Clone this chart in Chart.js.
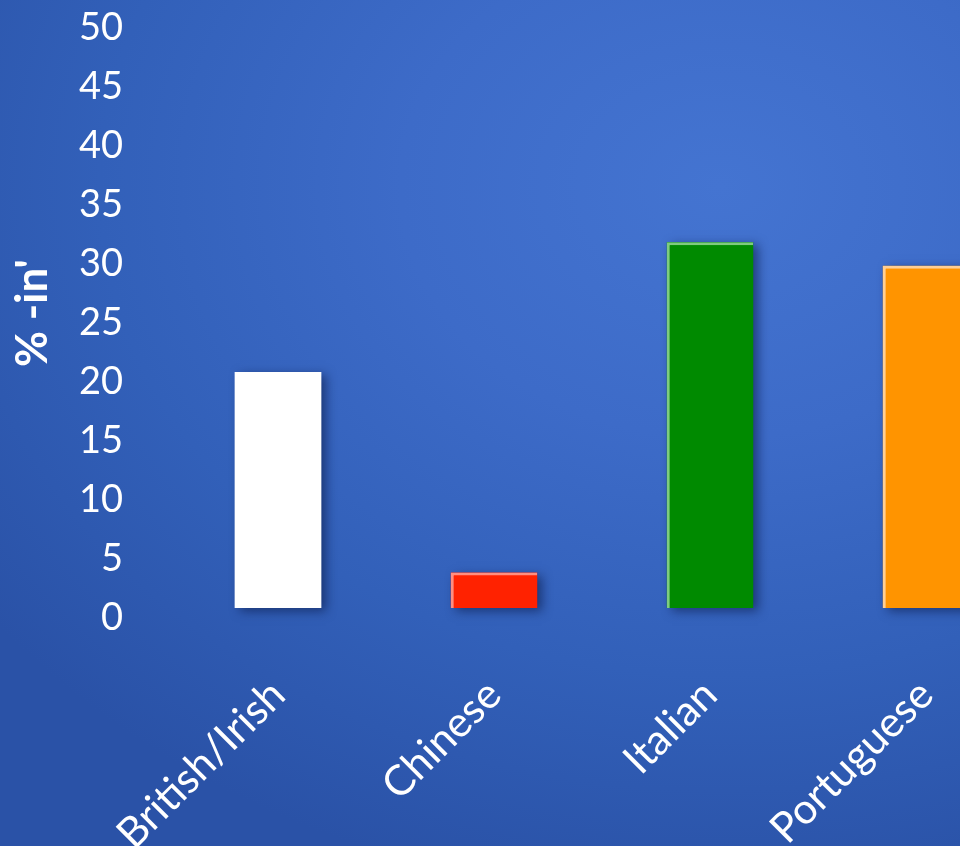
<!DOCTYPE html>
<html>
<head>
<meta charset="utf-8">
<style>
    html, body {
        margin: 0;
        padding: 0;
        width: 960px;
        height: 846px;
        overflow: hidden;
    }
    body {
        background: radial-gradient(ellipse 95% 85% at 75% 22%, #4474d1 0%, #3d6bc8 35%, #3260b9 68%, #2a52a7 100%);
    }
    #wrap {
        width: 1060px;
        height: 846px;
    }
</style>
</head>
<body>
<div id="wrap">
    <canvas id="ethnicChart" width="1060" height="846"></canvas>
</div>

<script src="https://cdn.jsdelivr.net/npm/chart.js"></script>
<script>
    // Chart data
    const categories = ['British/Irish', 'Chinese', 'Italian', 'Portuguese'];
    const values = [20, 3, 31, 29];
    const barColors = ['#ffffff', '#ff2200', '#008a00', '#ff9400'];
    const edgeColors = ['#ffffff', '#ff8f80', '#7fcb7f', '#ffcf94'];
    const yMin = 0;
    const yMax = 50;
    const yStep = 5;
    const yTitle = "% -in'";

    // soft drop shadow behind each bar, drawn from the bar elements
    const barShadow = {
        id: 'barShadow',
        beforeDatasetsDraw(chart) {
            const ctx = chart.ctx;
            const meta = chart.getDatasetMeta(0);
            ctx.save();
            ctx.shadowColor = 'rgba(10, 25, 70, 0.6)';
            ctx.shadowBlur = 10;
            ctx.shadowOffsetX = 5;
            ctx.shadowOffsetY = 3;
            meta.data.forEach((bar, i) => {
                const p = bar.getProps(['x', 'y', 'base', 'width'], true);
                ctx.fillStyle = barColors[i];
                ctx.fillRect(p.x - p.width / 2, p.y, p.width, p.base - p.y);
            });
            ctx.restore();
        }
    };

    const ctx = document.getElementById('ethnicChart').getContext('2d');

    new Chart(ctx, {
        type: 'bar',
        data: {
            labels: categories,
            datasets: [{
                data: values,
                backgroundColor: barColors,
                borderColor: edgeColors,
                borderWidth: (c) => c.dataIndex === 0 ? 0 : { top: 3, left: 3, right: 0, bottom: 0 },
                borderSkipped: false,
                barPercentage: 0.5,
                categoryPercentage: 0.8
            }]
        },
        options: {
            responsive: false,
            animation: false,
            layout: {
                padding: { top: 18, right: 26, bottom: 0, left: 0 }
            },
            plugins: {
                legend: { display: false },
                tooltip: { enabled: false }
            },
            scales: {
                x: {
                    grid: { display: false, drawTicks: false },
                    border: { display: false },
                    ticks: {
                        color: '#ffffff',
                        font: { family: 'Lato', size: 42 },
                        minRotation: 45,
                        maxRotation: 45,
                        autoSkip: false,
                        padding: 62
                    },
                    afterFit(scale) {
                        scale.height = 238;
                        scale.paddingLeft = 0;
                        scale.paddingRight = 0;
                    }
                },
                y: {
                    min: yMin,
                    max: yMax,
                    grid: { display: false, drawTicks: false },
                    border: { display: false },
                    ticks: {
                        stepSize: yStep,
                        color: '#ffffff',
                        font: { family: 'Lato', size: 38 },
                        padding: 47,
                        labelOffset: 10
                    },
                    title: {
                        display: true,
                        text: yTitle,
                        color: '#ffffff',
                        font: { family: 'Lato', size: 44, weight: 'bold' },
                        padding: { top: 6, bottom: 0 }
                    },
                    afterFit(scale) {
                        scale.width = 170;
                        scale.paddingTop = 0;
                        scale.paddingBottom = 0;
                    }
                }
            }
        },
        plugins: [barShadow]
    });
</script>
</body>
</html>
